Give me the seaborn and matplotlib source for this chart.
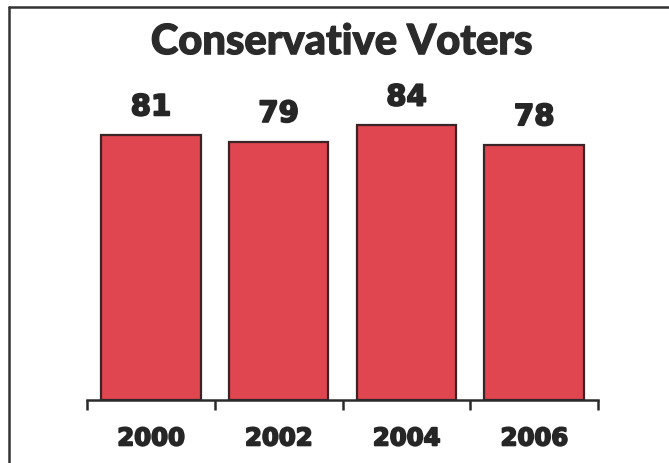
import matplotlib
matplotlib.use("Agg")
import matplotlib.pyplot as plt
import matplotlib.patheffects as pe
from matplotlib.lines import Line2D
import seaborn as sns
import pandas as pd

# Share of conservative voters by election year
years = ["2000", "2002", "2004", "2006"]
voters = [81, 79, 84, 78]
title = "Conservative Voters"

sns.set_theme(style="white")
plt.rcParams["font.family"] = ["DejaVu Sans"]

df = pd.DataFrame({"year": years, "voters": voters})
ink = "#262626"
heavy = [pe.withStroke(linewidth=1.3, foreground=ink)]

fig = plt.figure(figsize=(6.69, 4.63), dpi=100)
ax = fig.add_axes([0.130, 0.136, 0.764, 0.706])

sns.barplot(data=df, x="year", y="voters", ax=ax, color="#e0464f",
            saturation=1, width=0.78, edgecolor="#3a2426", linewidth=1.6)

ax.set_xlim(-0.5, len(years) - 0.5)
ax.set_ylim(0, 100)
ax.set_xlabel("")
ax.set_ylabel("")
ax.set_yticks([])

for s in ["left", "right", "top"]:
    ax.spines[s].set_visible(False)
ax.spines["bottom"].set_color("#2a2a2a")
ax.spines["bottom"].set_linewidth(1.8)

# category boundary ticks hanging below the axis line
ax.set_xticks([i - 0.5 for i in range(len(years) + 1)], minor=True)
ax.tick_params(axis="x", which="minor", bottom=True, length=7, width=1.8,
               color="#2a2a2a", direction="out")
ax.tick_params(axis="x", which="major", bottom=False, length=0, pad=19)
for lbl in ax.get_xticklabels():
    lbl.set_fontsize(17.5)
    lbl.set_fontweight("bold")
    lbl.set_color(ink)
    lbl.set_path_effects(heavy)

# value labels above each bar
for i, v in enumerate(voters):
    ax.annotate(str(v), (i, v), xytext=(0, 10), textcoords="offset points",
                ha="center", va="bottom", fontsize=21, fontweight="bold",
                color=ink, path_effects=heavy)

fig.text(0.51, 0.909, title, ha="center", va="center", fontsize=30,
         fontweight=900, family="Lato", color="#2b2b2b",
         path_effects=[pe.withStroke(linewidth=0.9, foreground="#2b2b2b")])

# outer frame (top and left edges)
fig.add_artist(Line2D([9 / 669, 9 / 669], [0, 1 - 7 / 463],
                      transform=fig.transFigure, color="#333333", lw=1.8))
fig.add_artist(Line2D([9 / 669, 1], [1 - 7 / 463, 1 - 7 / 463],
                      transform=fig.transFigure, color="#333333", lw=1.8))

fig.savefig("out.png", dpi=100)
